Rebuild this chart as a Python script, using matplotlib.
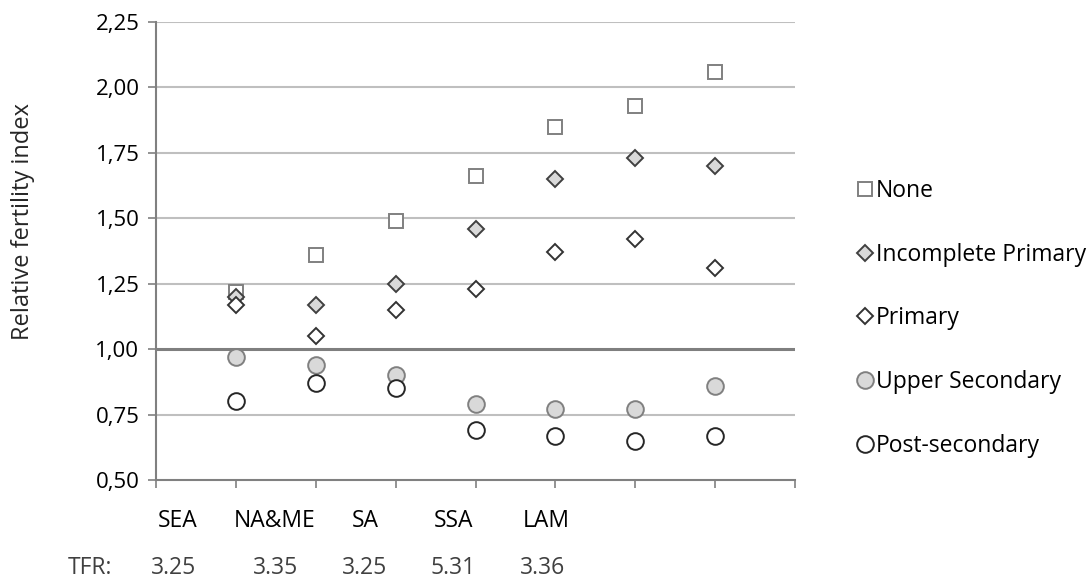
import matplotlib
matplotlib.use("Agg")
import matplotlib.pyplot as plt

plt.rcParams['font.family'] = ['Open Sans', 'DejaVu Sans']

# data
regions = ["SEA", "NA&ME", "SA", "SSA", "LAM"]
tfr = ["3.25", "3.35", "3.25", "5.31", "3.36"]
x_pos = [1, 2, 3, 4, 5, 6, 7]

none = [1.22, 1.36, 1.49, 1.66, 1.85, 1.93, 2.06]
incomplete_primary = [1.20, 1.17, 1.25, 1.46, 1.65, 1.73, 1.70]
primary = [1.17, 1.05, 1.15, 1.23, 1.37, 1.42, 1.31]
upper_secondary = [0.97, 0.94, 0.90, 0.79, 0.77, 0.77, 0.86]
post_secondary = [0.80, 0.87, 0.85, 0.69, 0.67, 0.65, 0.67]

y_ticks = [0.50, 0.75, 1.00, 1.25, 1.50, 1.75, 2.00, 2.25]
y_ticklabels = ["0,50", "0,75", "1,00", "1,25", "1,50", "1,75", "2,00", "2,25"]

# layout of the free text rows under the axis (data x coords)
region_label_x = [0.27, 1.48, 2.62, 3.73, 4.88]
tfr_label_x = [0.22, 1.49, 2.61, 3.72, 4.84]

fig = plt.figure(figsize=(10.92, 5.8), dpi=100)
ax = fig.add_axes([0.1429, 0.1724, 0.5852, 0.7897])

for y in y_ticks[1:]:
    if y == 1.00:
        continue
    ax.axhline(y, color="#bfbfbf", lw=1.5, zorder=1)
ax.axhline(1.00, color="#7f7f7f", lw=2.2, zorder=1)

ax.plot(x_pos, none, ls="none", marker="s", ms=10, mfc="white",
        mec="#808080", mew=1.4, label="None", zorder=3)
ax.plot(x_pos, incomplete_primary, ls="none", marker="D", ms=8.5, mfc="#d9d9d9",
        mec="#404040", mew=1.4, label="Incomplete Primary", zorder=3)
ax.plot(x_pos, primary, ls="none", marker="D", ms=8.5, mfc="white",
        mec="#333333", mew=1.4, label="Primary", zorder=3)
ax.plot(x_pos, upper_secondary, ls="none", marker="o", ms=12, mfc="#d9d9d9",
        mec="#808080", mew=1.4, label="Upper Secondary", zorder=3)
ax.plot(x_pos, post_secondary, ls="none", marker="o", ms=12, mfc="white",
        mec="#262626", mew=1.4, label="Post-secondary", zorder=3)

ax.set_xlim(0, 8)
ax.set_ylim(0.5, 2.25)
ax.set_yticks(y_ticks)
ax.set_yticklabels(y_ticklabels)
ax.set_xticks(range(0, 9))
ax.set_xticklabels([])
ax.tick_params(axis="y", length=6, width=1.2, color="#808080", labelsize=16, pad=6)
ax.tick_params(axis="x", length=6, width=1.2, color="#808080")

for s in ["top", "right"]:
    ax.spines[s].set_visible(False)
for s in ["left", "bottom"]:
    ax.spines[s].set_color("#808080")
    ax.spines[s].set_linewidth(1.5)

fig.text(23 / 1092, 1 - 221 / 580, "Relative fertility index", rotation=90,
         ha="center", va="center", fontsize=17, color="#262626")

for lx, lab in zip(region_label_x, regions):
    ax.text(lx, 0.343, lab, ha="center", va="center", fontsize=16.5,
            color="black", clip_on=False)
ax.text(-0.83, 0.163, "TFR:", ha="center", va="center", fontsize=16.5,
        color="#404040", clip_on=False)
for lx, lab in zip(tfr_label_x, tfr):
    ax.text(lx, 0.163, lab, ha="center", va="center", fontsize=16.5,
            color="#404040", clip_on=False)

fig.legend(loc="center left", bbox_to_anchor=(0.774, 0.451), frameon=False,
           fontsize=16.5, handlelength=0.7, handletextpad=0.15,
           labelspacing=1.74, borderpad=0)

fig.savefig("out.png", dpi=100)
